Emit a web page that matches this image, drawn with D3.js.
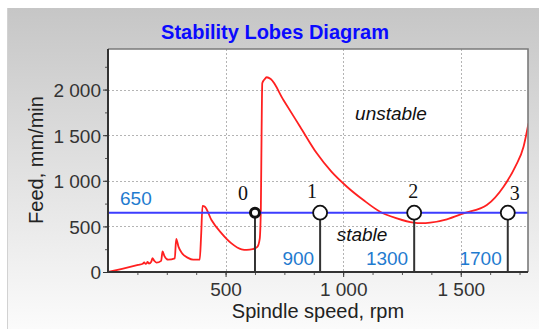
<!DOCTYPE html>
<html>
<head>
<meta charset="utf-8">
<script src="https://cdn.jsdelivr.net/npm/d3@7"></script>
<style>
  body { margin: 0; background: #fff; }
  svg { display: block; }
</style>
</head>
<body>
<div id="chart"></div>
<script>
////////////////////////////////////////////////////////////////////////
// Data

// stability boundary (red curve): spindle speed, rpm
let lobeRpm = [0, 60, 128, 148, 154, 160, 165, 168, 174, 184, 189, 196, 206, 226, 232, 240, 256,
  284, 290, 300, 315, 340, 362, 390, 396, 402, 412, 440, 483, 525, 568, 590, 615, 635, 645, 650,
  653, 656, 665, 675, 692, 746, 817, 888, 950, 1016, 1086, 1157, 1228, 1299, 1335, 1370, 1441,
  1512, 1611, 1682, 1732, 1767, 1788];
// stability boundary: feed, mm/min
let lobeFeed = [0, 35, 77, 90, 106, 88, 96, 112, 92, 112, 152, 125, 103, 122, 225, 175, 135,
  150, 364, 275, 205, 155, 135, 135, 400, 726, 716, 570, 424, 314, 249, 243, 250, 275, 360, 700,
  1500, 2070, 2110, 2135, 2115, 1886, 1593, 1301, 1100, 935, 789, 661, 589, 541, 535, 541, 578,
  643, 734, 935, 1155, 1374, 1630];

// chosen feed level (blue line)
let feedLevel = 650;

// marked spindle speeds and their names
let markerRpm = [625, 902, 1302, 1700];
let markerName = ["0", "1", "2", "3"];
let markerSpeedText = ["", "900", "1300", "1700"];

let xTicks = [500, 1000, 1500];
let yTicks = [0, 500, 1000, 1500, 2000];

let titleText = "Stability Lobes Diagram";
let xTitle = "Spindle speed, rpm";
let yTitle = "Feed, mm/min";


////////////////////////////////////////////////////////////////////////
// Svg and layout

let width = 539;
let height = 329;
let plot = { left: 108, top: 49, right: 528, bottom: 272 };

let svg = d3.select("#chart")
  .append("svg")
  .attr("width", width).attr("height", height)
  .style("font-family", "'Liberation Sans', Arial, sans-serif");

let defs = svg.append("defs");
let grad = defs.append("linearGradient")
  .attr("id", "panelGrad")
  .attr("x1", 0).attr("y1", 0).attr("x2", 0).attr("y2", 1);
grad.append("stop").attr("offset", "0%").attr("stop-color", "#c6c6c6");
grad.append("stop").attr("offset", "45%").attr("stop-color", "#dedede");
grad.append("stop").attr("offset", "100%").attr("stop-color", "#fbfbfb");

defs.append("clipPath").attr("id", "plotClip")
  .append("rect")
  .attr("x", plot.left).attr("y", plot.top)
  .attr("width", plot.right - plot.left).attr("height", plot.bottom - plot.top);

// grey panel behind everything
svg.append("rect")
  .attr("x", 7).attr("y", 8)
  .attr("width", width - 7).attr("height", height - 8)
  .style("fill", "url(#panelGrad)");
svg.append("line")
  .attr("x1", 7.5).attr("x2", 7.5).attr("y1", 8).attr("y2", height)
  .style("stroke", "#d2d2d2");

// white plotting area
svg.append("rect")
  .attr("x", plot.left).attr("y", plot.top)
  .attr("width", plot.right - plot.left).attr("height", plot.bottom - plot.top)
  .style("fill", "#fff");


////////////////////////////////////////////////////////////////////////
// Scales and axes

let xScale = d3.scaleLinear().domain([0, 1786]).range([plot.left, plot.right]);
let yScale = d3.scaleLinear().domain([0, 2445]).range([plot.bottom, plot.top]);

let fmt = d3.formatLocale({ decimal: ",", thousands: " ", grouping: [3], currency: ["", ""] }).format(",");

// dotted grid
svg.append("g").selectAll("line")
  .data(xTicks).enter().append("line")
  .attr("x1", d => Math.round(xScale(d)) + 0.5).attr("x2", d => Math.round(xScale(d)) + 0.5)
  .attr("y1", plot.top).attr("y2", plot.bottom)
  .style("stroke", "#b4b4b4").style("stroke-dasharray", "2,2");
svg.append("g").selectAll("line")
  .data(yTicks.filter(d => d > 0)).enter().append("line")
  .attr("x1", plot.left).attr("x2", plot.right)
  .attr("y1", d => Math.round(yScale(d)) + 0.5).attr("y2", d => Math.round(yScale(d)) + 0.5)
  .style("stroke", "#b4b4b4").style("stroke-dasharray", "2,2");

// minor ticks
let xMinor = d3.axisBottom(xScale).tickValues(d3.range(125, 1786, 125)).tickSize(3).tickFormat("");
let yMinor = d3.axisLeft(yScale).tickValues(d3.range(250, 2445, 250)).tickSize(3).tickFormat("");
svg.append("g").attr("transform", "translate(0," + plot.bottom + ")").call(xMinor)
  .call(g => g.select(".domain").remove())
  .selectAll("line").style("stroke", "#555");
svg.append("g").attr("transform", "translate(" + plot.left + ",0)").call(yMinor)
  .call(g => g.select(".domain").remove())
  .selectAll("line").style("stroke", "#555");

// major axes
let xAxis = d3.axisBottom(xScale).tickValues(xTicks).tickSize(5).tickPadding(6).tickFormat(fmt);
let yAxis = d3.axisLeft(yScale).tickValues(yTicks).tickSize(5).tickPadding(2).tickFormat(fmt);

let gx = svg.append("g").attr("transform", "translate(0," + plot.bottom + ")").call(xAxis);
let gy = svg.append("g").attr("transform", "translate(" + plot.left + ",0)").call(yAxis);
[gx, gy].forEach(function(g) {
  g.select(".domain").remove();
  g.selectAll("line").style("stroke", "#333");
  g.selectAll("text")
    .style("font-family", "'Liberation Sans', Arial, sans-serif")
    .style("font-size", "19px")
    .style("fill", "#333");
});
gy.selectAll("text").attr("dy", "0.36em");


////////////////////////////////////////////////////////////////////////
// Marks

// red stability boundary
let lobePoints = lobeRpm.map((r, i) => [r, lobeFeed[i]]);
svg.append("path")
  .datum(lobePoints)
  .attr("clip-path", "url(#plotClip)")
  .attr("d", d3.line().x(d => xScale(d[0])).y(d => yScale(d[1])).curve(d3.curveMonotoneX))
  .style("fill", "none")
  .style("stroke", "#ff2020")
  .style("stroke-width", 1.8);

// blue feed line
svg.append("line")
  .attr("x1", plot.left).attr("x2", plot.right)
  .attr("y1", yScale(feedLevel)).attr("y2", yScale(feedLevel))
  .style("stroke", "#3c3cff").style("stroke-width", 2);
svg.append("text")
  .attr("x", plot.left + 12).attr("y", yScale(feedLevel) - 8)
  .text(fmt(feedLevel))
  .style("font-size", "19px").style("fill", "#1f7bcf");

// frame: dark left and bottom, grey top and right
svg.append("path")
  .attr("d", "M" + plot.left + "," + plot.top + "H" + plot.right + "V" + plot.bottom)
  .style("fill", "none").style("stroke", "#7a7a7a").style("stroke-width", 1.6);
svg.append("path")
  .attr("d", "M" + plot.left + "," + plot.top + "V" + plot.bottom + "H" + plot.right)
  .style("fill", "none").style("stroke", "#333").style("stroke-width", 2);

// stems to the speed axis
svg.append("g").selectAll("line")
  .data(markerRpm).enter().append("line")
  .attr("x1", d => xScale(d)).attr("x2", d => xScale(d))
  .attr("y1", yScale(feedLevel)).attr("y2", plot.bottom)
  .style("stroke", "#333").style("stroke-width", 2);

// speed labels left of the stems
svg.append("g").selectAll("text")
  .data(markerRpm).enter().append("text")
  .attr("x", d => xScale(d) - 6).attr("y", plot.bottom - 7)
  .attr("text-anchor", "end")
  .text((d, i) => markerSpeedText[i])
  .style("font-size", "19px").style("fill", "#1f7bcf");

// circles
svg.append("g").selectAll("circle")
  .data(markerRpm).enter().append("circle")
  .attr("cx", d => xScale(d)).attr("cy", yScale(feedLevel))
  .attr("r", (d, i) => i === 0 ? 4.5 : 7)
  .style("fill", "#fff")
  .style("stroke", "#111")
  .style("stroke-width", (d, i) => i === 0 ? 3 : 1.8);

// marker names (serif digits)
let nameDx = [-12, -8, -1, 7];
let nameDy = [-13, -15, -15, -13];
svg.append("g").selectAll("text")
  .data(markerRpm).enter().append("text")
  .attr("x", (d, i) => xScale(d) + nameDx[i])
  .attr("y", (d, i) => yScale(feedLevel) + nameDy[i])
  .attr("text-anchor", "middle")
  .text((d, i) => markerName[i])
  .style("font-family", "'Liberation Serif', 'Times New Roman', serif")
  .style("font-size", "20px")
  .style("fill", "#111");

// region labels
svg.append("text")
  .attr("x", 391).attr("y", 120)
  .attr("text-anchor", "middle")
  .text("unstable")
  .style("font-style", "italic").style("font-size", "19px").style("fill", "#111");
svg.append("text")
  .attr("x", 362).attr("y", 241)
  .attr("text-anchor", "middle")
  .text("stable")
  .style("font-style", "italic").style("font-size", "19px").style("fill", "#111");


////////////////////////////////////////////////////////////////////////
// Titles

svg.append("text")
  .attr("x", 275).attr("y", 39)
  .attr("text-anchor", "middle")
  .text(titleText)
  .style("font-weight", "bold").style("font-size", "20px").style("fill", "#0a0aff");

svg.append("text")
  .attr("x", (plot.left + plot.right) / 2).attr("y", 318)
  .attr("text-anchor", "middle")
  .text(xTitle)
  .style("font-size", "20px").style("fill", "#222");

svg.append("text")
  .attr("transform", "translate(43,160) rotate(-90)")
  .attr("text-anchor", "middle")
  .text(yTitle)
  .style("font-size", "20px").style("fill", "#222");
</script>
</body>
</html>
